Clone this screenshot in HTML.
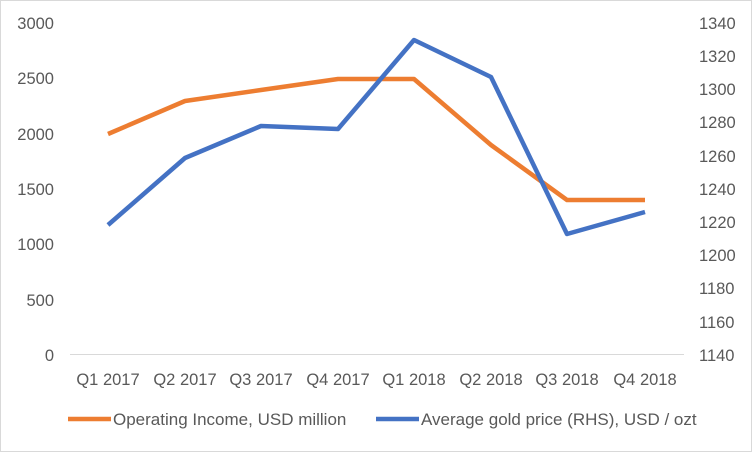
<!DOCTYPE html>
<html><head><style>
body{margin:0;background:#fff}
svg text{font-family:"Liberation Sans",sans-serif;font-size:16.5px;fill:#595959}
</style></head><body>
<svg width="752" height="452" xmlns="http://www.w3.org/2000/svg">
<rect x="0.5" y="0.5" width="751" height="451" fill="#fff" stroke="#d9d9d9"/>
<line x1="70" y1="354.5" x2="684" y2="354.5" stroke="#d9d9d9" stroke-width="1"/>
<g text-anchor="end">
<text x="54" y="29">3000</text><text x="54" y="84">2500</text><text x="54" y="140">2000</text>
<text x="54" y="195">1500</text><text x="54" y="250">1000</text><text x="54" y="306">500</text>
<text x="54" y="361">0</text>
</g>
<g text-anchor="start">
<text x="699" y="29">1340</text><text x="699" y="62">1320</text><text x="699" y="95">1300</text>
<text x="699" y="128">1280</text><text x="699" y="162">1260</text><text x="699" y="195">1240</text>
<text x="699" y="228">1220</text><text x="699" y="261">1200</text><text x="699" y="294">1180</text>
<text x="699" y="328">1160</text><text x="699" y="361">1140</text>
</g>
<g text-anchor="middle">
<text x="108" y="385">Q1 2017</text><text x="185" y="385">Q2 2017</text><text x="261" y="385">Q3 2017</text>
<text x="338" y="385">Q4 2017</text><text x="414" y="385">Q1 2018</text><text x="491" y="385">Q2 2018</text>
<text x="567" y="385">Q3 2018</text><text x="645" y="385">Q4 2018</text>
</g>
<polyline fill="none" stroke="#ed7d31" stroke-width="4.5" stroke-linejoin="round" points="108,134 185,101 261,90 338,79 414,79 491,145 567,200 645,200"/>
<polyline fill="none" stroke="#4472c4" stroke-width="4.5" stroke-linejoin="round" points="108,225 185,158 261,126 338,129 414,40 491,77 567,234 645,212"/>
<line x1="68" y1="419" x2="111" y2="419" stroke="#ed7d31" stroke-width="4.5"/>
<text x="113" y="425" style="font-size:17px">Operating Income, USD million</text>
<line x1="376" y1="419" x2="419" y2="419" stroke="#4472c4" stroke-width="4.5"/>
<text x="421" y="425" style="font-size:17px">Average gold price (RHS), USD / ozt</text>
</svg>
</body></html>
